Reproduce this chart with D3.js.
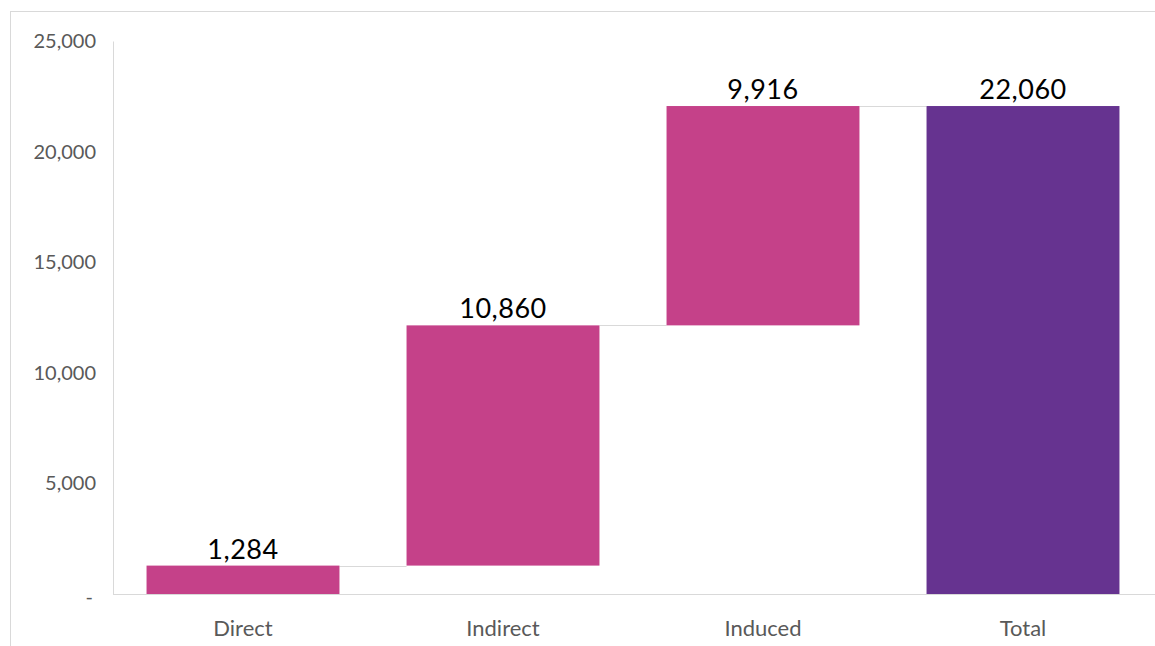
<!DOCTYPE html>
<html><head><meta charset="utf-8">
<script src="https://cdn.jsdelivr.net/npm/d3@7"></script>
<style>
body{margin:0;background:#fff;}
svg{display:block;font-family:"Gill Sans","Lato",sans-serif;}
</style></head>
<body><svg id="c" width="1155" height="646"></svg>
<script>
const categories = ["Direct","Indirect","Induced","Total"];
const values = [1284, 10860, 9916, 22060];
const isTotal = [false,false,false,true];
const tickValues = [0,5000,10000,15000,20000,25000];
const tickLabels = ["-","5,000","10,000","15,000","20,000","25,000"];

const svg = d3.select("#c");
svg.append("rect").attr("x",10.5).attr("y",11.5).attr("width",1160).attr("height",660)
  .attr("fill","none").attr("stroke","#d9d9d9");

const x = d3.scaleBand().domain(categories).range([113,1153]).paddingInner(0.258).paddingOuter(0.129);
const y = d3.scaleLinear().domain([0,25000]).range([594,41]);

let cum = 0;
const bars = categories.map((c,i)=>{
  let y0,y1;
  if(isTotal[i]){y0=0;y1=values[i];}
  else {y0=cum;y1=cum+values[i];cum=y1;}
  return {c,v:values[i],y0,y1,total:isTotal[i]};
});

const yAxis = d3.axisLeft(y).tickValues(tickValues).tickSize(0).tickPadding(17)
  .tickFormat((d,i)=>tickLabels[i]);
const ga = svg.append("g").attr("transform","translate(113,0)").call(yAxis);
ga.select(".domain").attr("stroke","#d9d9d9");
ga.selectAll("text").attr("fill","#595959").style("font-size","20px").style("font-family","Lato, sans-serif");
ga.selectAll(".tick text").filter((d)=>d===0).attr("dy","0.45em").attr("dx","-3");

const xAxis = d3.axisBottom(x).tickSize(0).tickPadding(26);
const gx = svg.append("g").attr("transform","translate(0,594)").call(xAxis);
gx.select(".domain").attr("stroke","#d9d9d9").attr("d","M113,0.5H1155");
gx.selectAll("text").attr("fill","#595959").style("font-size","22px").style("font-family","Lato, sans-serif");

for(let i=0;i<bars.length-1;i++){
  const top = bars[i].y1;
  svg.append("line").attr("x1",x(bars[i].c)+x.bandwidth()).attr("x2",x(bars[i+1].c))
    .attr("y1",Math.round(y(top))+0.5).attr("y2",Math.round(y(top))+0.5)
    .attr("stroke","#d9d9d9").attr("stroke-width",1);
}

svg.selectAll("rect.bar").data(bars).join("rect").attr("class","bar")
  .attr("x",d=>x(d.c)).attr("width",x.bandwidth())
  .attr("y",d=>y(d.y1)).attr("height",d=>y(d.y0)-y(d.y1))
  .attr("fill",d=>d.total?"#663390":"#C54189");

svg.selectAll("text.lbl").data(bars).join("text").attr("class","lbl")
  .attr("x",d=>x(d.c)+x.bandwidth()/2).attr("y",d=>y(d.y1)-7)
  .attr("text-anchor","middle").attr("fill","#000")
  .style("font-size","27px").style("letter-spacing","0.5px").style("font-family","Lato, sans-serif")
  .text(d=>d3.format(",")(d.v));
</script></body></html>
